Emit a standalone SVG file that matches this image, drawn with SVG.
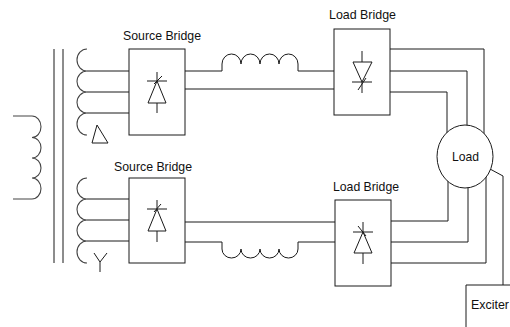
<svg xmlns="http://www.w3.org/2000/svg" width="510" height="327" viewBox="0 0 510 327">
<style>
.ln{fill:none;stroke:#1a1a1a;stroke-width:1}
.cv{fill:none;stroke:#444;stroke-width:1.1}
.box{fill:none;stroke:#1a1a1a;stroke-width:1}
.lbl{font-family:"Liberation Sans",Arial,sans-serif;font-size:13px;fill:#111}
</style>
<rect width="510" height="327" fill="#fff"/>
<g id="transformer">
  <path class="ln" d="M54,49V263M63,49V263"/>
  <path class="cv" d="M13,116H32A9,10.75 0 0 1 32,137.5A9,10.25 0 0 1 32,158A9,10 0 0 1 32,178A9,10.5 0 0 1 32,199H13"/>
  <path class="cv" d="M87,49A10,11 0 0 0 87,71A10,10.5 0 0 0 87,92A10,10.5 0 0 0 87,113A10,11 0 0 0 87,135"/>
  <path class="cv" d="M87,178A10,10.5 0 0 0 87,199A10,10.5 0 0 0 87,220A10,10.5 0 0 0 87,241A10,11 0 0 0 87,263"/>
  <path class="ln" d="M97,125L92,143H108Z"/>
  <path class="ln" d="M94,253L100,262L107,253M100,262V272"/>
</g>
<g id="connectors">
  <path class="ln" d="M87,71H129M87,92H129M87,113H129"/>
  <path class="ln" d="M87,199H129M87,220H129M87,241H129"/>
  <path class="ln" d="M185,71H222V64A9.5,10 0 0 1 241,64A9.5,10 0 0 1 260,64A9.5,10 0 0 1 279,64A9.5,10 0 0 1 298,64V71H334"/>
  <path class="ln" d="M185,89H334"/>
  <path class="ln" d="M185,222H335"/>
  <path class="ln" d="M185,242H222V249A9.5,9 0 0 0 241,249A9.5,9 0 0 0 260,249A9.5,9 0 0 0 279,249A9.5,9 0 0 0 298,249V242H335"/>
  <path class="ln" d="M390,49H484V150M390,71H467V150M390,92H447V150"/>
  <path class="ln" d="M391,221H448V165M391,242H468V165M391,263H486V165"/>
  <path class="ln" d="M490,169L503,176V285"/>
</g>
<g id="source-bridge-top">
  <rect class="box" x="129" y="49" width="56" height="86"/>
  <path class="ln" d="M157,72V81M147,81H167M157,81L148,103H166ZM157,103V113M154,84L162,76"/>
  <text class="lbl" x="123" y="40" textLength="78" lengthAdjust="spacingAndGlyphs">Source Bridge</text>
</g>
<g id="source-bridge-bottom">
  <rect class="box" x="129" y="178" width="56" height="85"/>
  <path class="ln" d="M157,200V209M147,209H167M157,209L148,231H166ZM157,231V242M154,212L161,204"/>
  <text class="lbl" x="114" y="171" textLength="78" lengthAdjust="spacingAndGlyphs">Source Bridge</text>
</g>
<g id="load-bridge-top">
  <rect class="box" x="334" y="29" width="56" height="86"/>
  <path class="ln" d="M362,51V62M353,62H372L362,82ZM352,82H372M362,82V93M358,90L366,78"/>
  <text class="lbl" x="329" y="19" textLength="67" lengthAdjust="spacingAndGlyphs">Load Bridge</text>
</g>
<g id="load-bridge-bottom">
  <rect class="box" x="335" y="200" width="56" height="86"/>
  <path class="ln" d="M363,222V232M353,232H373M363,232L354,253H372ZM363,253V264M358,226L366,236"/>
  <text class="lbl" x="333" y="191" textLength="66" lengthAdjust="spacingAndGlyphs">Load Bridge</text>
</g>
<g id="load">
  <ellipse cx="465" cy="156.5" rx="28" ry="31.5" fill="#fff" stroke="#1a1a1a" stroke-width="1"/>
  <text class="lbl" x="452" y="161" font-size="13.5" textLength="27" lengthAdjust="spacingAndGlyphs">Load</text>
</g>
<g id="exciter">
  <path class="box" d="M512,285H466V330"/>
  <text class="lbl" x="471" y="309" textLength="38" lengthAdjust="spacingAndGlyphs">Exciter</text>
</g>
</svg>
